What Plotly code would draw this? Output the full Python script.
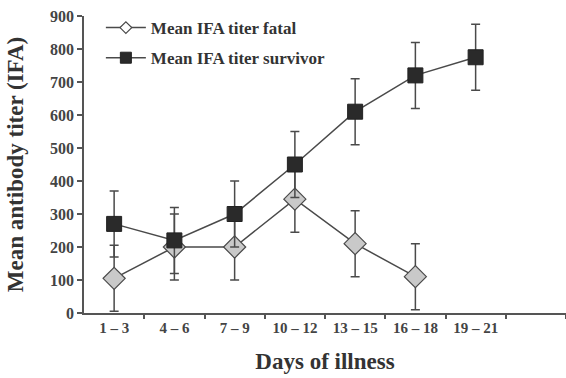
import plotly.graph_objects as go

categories = ["1 – 3", "4 – 6", "7 – 9", "10 – 12", "13 – 15", "16 – 18", "19 – 21"]
fatal = [105, 200, 200, 345, 210, 110, None]
fatal_err = [100, 100, 100, 100, 100, 100, None]
survivor = [270, 220, 300, 450, 610, 720, 775]
survivor_err = [100, 100, 100, 100, 100, 100, 100]
y_ticks = [0, 100, 200, 300, 400, 500, 600, 700, 800, 900]

xpos = [i + 0.5 for i in range(len(categories))]
FONT = "Liberation Serif"
LINE = "#4a4a4a"

fig = go.Figure()
fig.add_trace(go.Scatter(
    x=xpos, y=fatal, mode="lines+markers", showlegend=False,
    line=dict(color=LINE, width=1.5),
    marker=dict(symbol="diamond", size=17, color="#c9c9c9", line=dict(color=LINE, width=1.2)),
    error_y=dict(type="data", array=fatal_err, color=LINE, thickness=1.5, width=4.5),
))
fig.add_trace(go.Scatter(
    x=xpos, y=survivor, mode="lines+markers", showlegend=False,
    line=dict(color=LINE, width=1.5),
    marker=dict(symbol="square", size=15, color="#2a2a2a", line=dict(color="#222", width=1)),
    error_y=dict(type="data", array=survivor_err, color=LINE, thickness=1.5, width=4.5),
))
# legend entries
fig.add_trace(go.Scatter(
    x=[None], y=[None], mode="lines+markers", name="Mean IFA titer fatal", legendgroup="a",
    line=dict(color=LINE, width=1.5),
    marker=dict(symbol="diamond", size=9, color="white", line=dict(color=LINE, width=1.2)),
))
fig.add_trace(go.Scatter(
    x=[None], y=[None], mode="lines+markers", name="Mean IFA titer survivor", legendgroup="b",
    line=dict(color=LINE, width=1.5),
    marker=dict(symbol="square", size=11, color="#2a2a2a", line=dict(color="#222", width=1)),
))

fig.update_layout(
    width=566, height=378,
    margin=dict(l=84, r=0, t=16, b=65),
    paper_bgcolor="white", plot_bgcolor="white",
    font=dict(family=FONT, color="#333"),
    legend=dict(
        x=0.035, y=1.02, xanchor="left", yanchor="top",
        font=dict(family=FONT, size=17, color="#333", weight="bold"),
        tracegroupgap=5, traceorder="grouped", bgcolor="rgba(0,0,0,0)",
        itemwidth=40,
    ),
    xaxis=dict(
        range=[0, 8], showgrid=False, zeroline=False,
        showline=True, linecolor="#555", linewidth=1.5,
        tickvals=xpos, ticktext=categories, ticks="",
        tickfont=dict(family=FONT, size=15, color="#444", weight="bold"),
        minor=dict(tickvals=list(range(1, 9)), ticks="outside", ticklen=4, tickcolor="#555", tickwidth=1.5),
        title=dict(text="Days of illness", font=dict(family=FONT, size=23, color="#333", weight="bold"), standoff=18),
    ),
    yaxis=dict(
        range=[0, 900], showgrid=False, zeroline=False,
        showline=True, linecolor="#555", linewidth=1.5,
        tickvals=y_ticks, ticks="outside", ticklen=5, tickcolor="#555", tickwidth=1.5,
        tickfont=dict(family=FONT, size=16, color="#444", weight="bold"),
        title=dict(text="Mean antibody titer (IFA)", font=dict(family=FONT, size=23, color="#333", weight="bold"), standoff=20),
    ),
)

fig.write_html("out.html")
